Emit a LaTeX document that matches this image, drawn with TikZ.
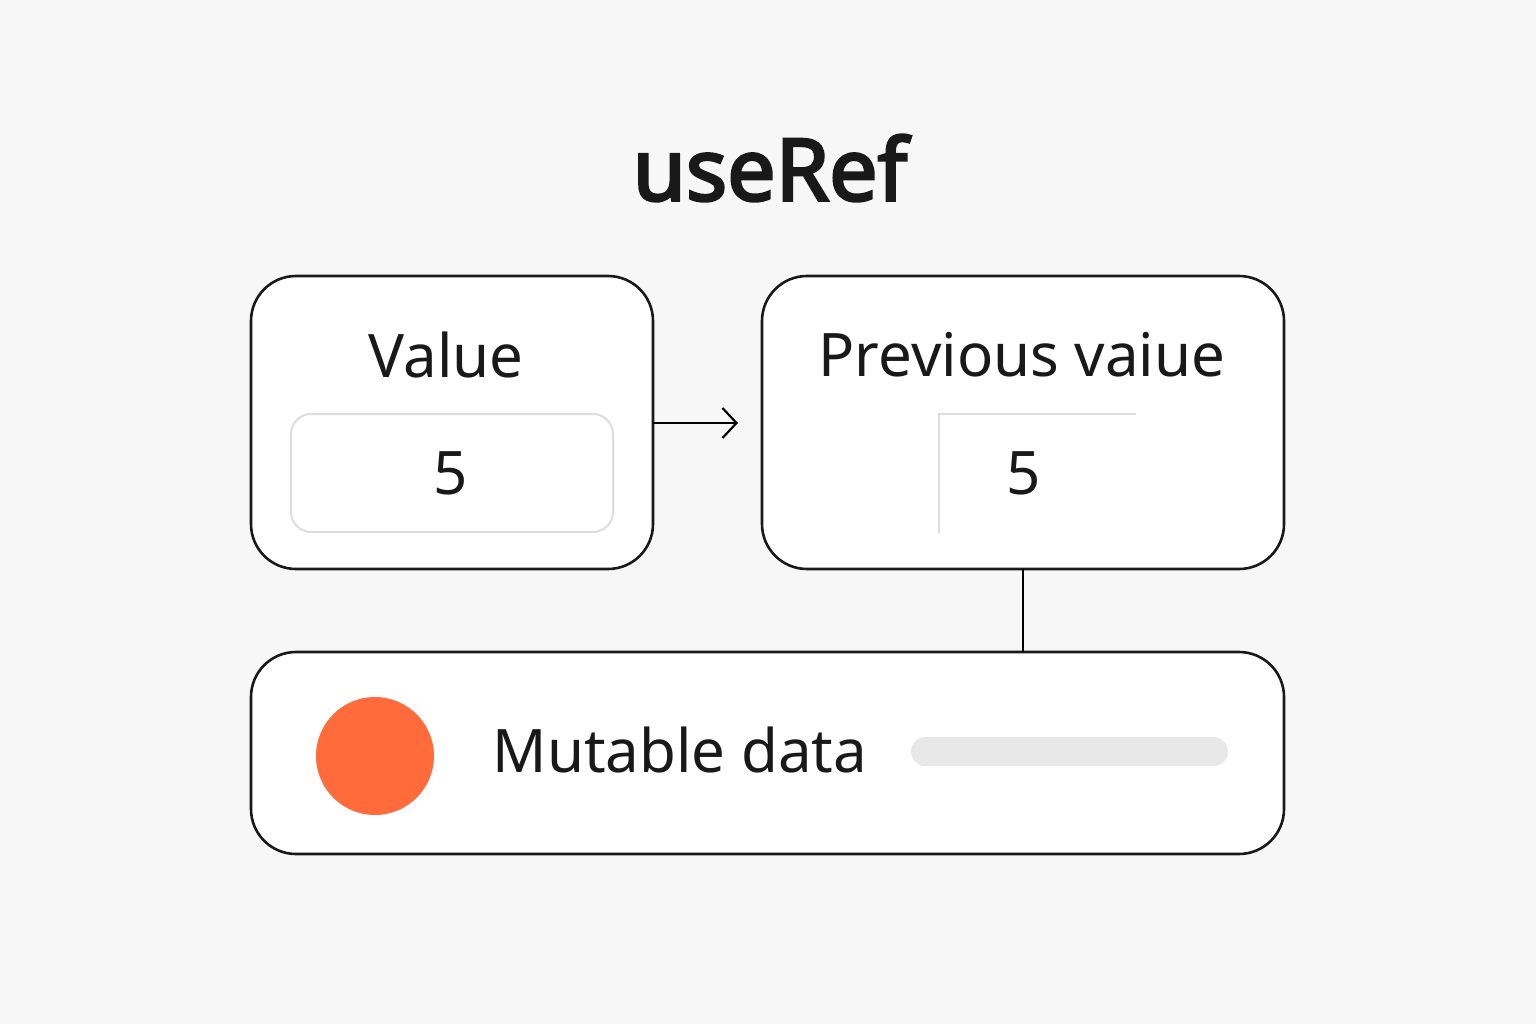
\documentclass[tikz,border=0pt]{standalone}
\usepackage{fontspec}
\setmainfont{Noto Sans}
\newfontfamily\tf[AutoFakeBold=3.2]{Noto Sans}
\usetikzlibrary{arrows.meta}
\definecolor{bg}{HTML}{F7F7F8}
\definecolor{org}{HTML}{FF6B3A}
\definecolor{lg}{HTML}{DDDDDD}
\definecolor{bar}{HTML}{E8E8E8}
\begin{document}
\begin{tikzpicture}[x=1pt,y=-1pt,
  box/.style={draw=black!90,line width=2.6pt,fill=white,rounded corners=45pt},
  lbl/.style={font=\fontsize{60}{70}\selectfont,text=black!90},
  inner sep=0pt]
\fill[bg] (0,0) rectangle (1536,1024);
\useasboundingbox (0,0) rectangle (1536,1024);
\node[font=\fontsize{86}{100}\selectfont\tf\bfseries,text=black!90] (title) at (770,168) {useRef};
\draw[box] (251,276) rectangle (653,569);
\coordinate (vbR) at (653,423);
\draw[draw=lg,line width=2pt,fill=white,rounded corners=20pt] (291,414) rectangle (613,532);
\node[lbl] (val) at (446,355) {Value};
\node[lbl] (v5) at (451,473) {5};
\draw[box] (762,276) rectangle (1284,569);
\coordinate (pbL) at (738,423);
\coordinate (pbB) at (1023,569);
\draw[draw=lg,line width=2pt] (939,533) -- (939,414) -- (1136,414);
\node[lbl] (prev) at (1022,355) {Previous vaiue};
\node[lbl] (p5) at (1024,473) {5};
\draw[box] (251,652) rectangle (1284,854);
\coordinate (mbT) at (1023,652);
\fill[org] (375,756) circle (59);
\node[lbl] (mut) at (680,750) {Mutable data};
\fill[bar,rounded corners=14.5pt] (911,737) rectangle (1228,766);
\draw[line width=2.2pt,-{Straight Barb[length=14pt,width=30pt]}] (vbR) -- (pbL);
\draw[line width=2.6pt] (pbB) -- (mbT);
\end{tikzpicture}
\end{document}
